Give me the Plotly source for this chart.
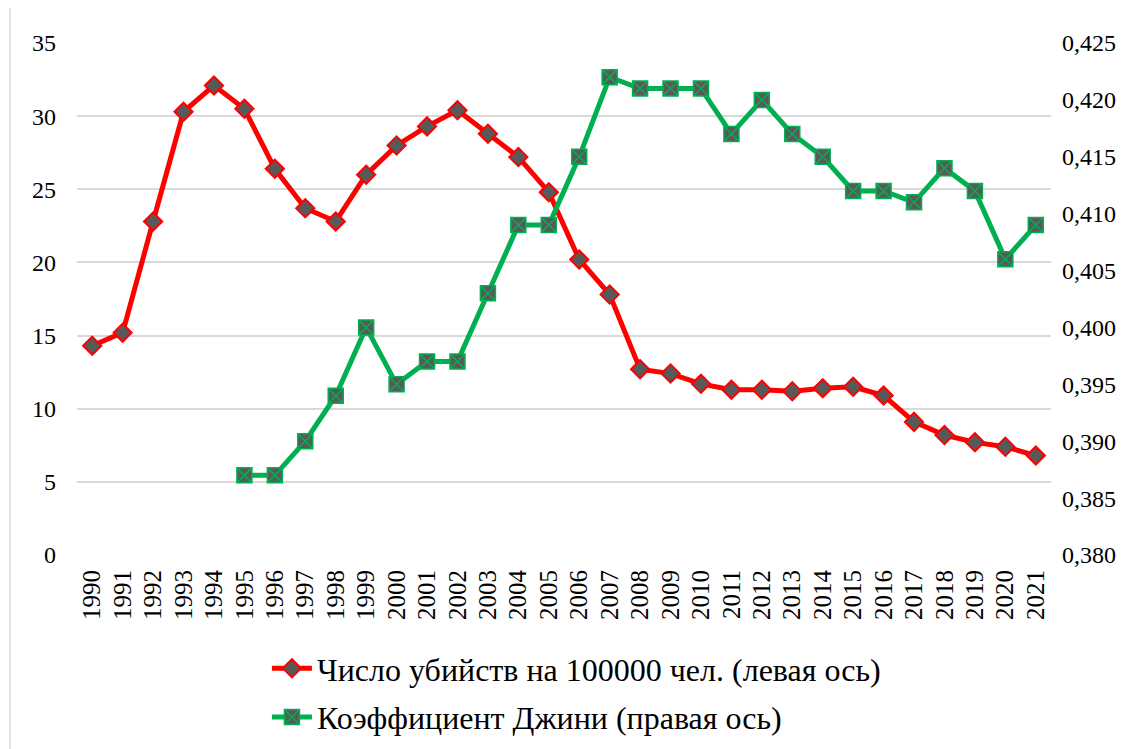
import plotly.graph_objects as go

# ── Данные ────────────────────────────────────────────────────────────────
years = list(range(1990, 2022))

murders = [14.3, 15.2, 22.8, 30.3, 32.1, 30.5, 26.4, 23.7, 22.8, 26.0,
           28.0, 29.3, 30.4, 28.8, 27.2, 24.8, 20.2, 17.8, 12.7, 12.4,
           11.7, 11.3, 11.3, 11.2, 11.4, 11.5, 10.9, 9.1, 8.2, 7.7,
           7.4, 6.8]

gini_years = list(range(1995, 2022))
gini = [0.387, 0.387, 0.390, 0.394, 0.400, 0.395, 0.397, 0.397, 0.403,
        0.409, 0.409, 0.415, 0.422, 0.421, 0.421, 0.421, 0.417, 0.420,
        0.417, 0.415, 0.412, 0.412, 0.411, 0.414, 0.412, 0.406, 0.409]

left_ticks = [0, 5, 10, 15, 20, 25, 30, 35]
right_ticks = [0.380, 0.385, 0.390, 0.395, 0.400, 0.405, 0.410, 0.415, 0.420, 0.425]

name_murders = "Число убийств на 100000 чел. (левая ось)"
name_gini = "Коэффициент Джини (правая ось)"

FONT = "Times New Roman, Liberation Serif, serif"
RED = "#ff0000"
GREEN = "#00b050"
MARK = "#595959"

fig = go.Figure()

fig.add_trace(go.Scatter(
  x=years, y=murders, name=name_murders, mode="lines+markers",
  line=dict(color=RED, width=5),
  marker=dict(symbol="diamond", size=14, color=MARK, line=dict(color=RED, width=2)),
  legendgroup="a",
))

fig.add_trace(go.Scatter(
  x=gini_years, y=gini, name=name_gini, mode="lines+markers",
  line=dict(color=GREEN, width=5), yaxis="y2",
  marker=dict(symbol="square-x", size=15, color=MARK, line=dict(color=GREEN, width=1.5)),
  legendgroup="b",
))

# страница получает отступ body 8px — компенсируем в полях
fig.update_layout(
  width=1137, height=749,
  paper_bgcolor="white", plot_bgcolor="white",
  font=dict(family=FONT, size=24, color="black"),
  separators=", ",
  margin=dict(l=69, r=94, t=35, b=202, autoexpand=False),
  xaxis=dict(
    range=[1989.5, 2021.5], tickmode="array", tickvals=years,
    ticktext=[str(y) for y in years], tickangle=-90,
    showgrid=False, zeroline=False, showline=False, ticks="",
    ticklabelstandoff=9, tickfont=dict(size=25),
  ),
  yaxis=dict(
    range=[0, 35], tickmode="array", tickvals=left_ticks,
    showgrid=True, gridcolor="#d9d9d9", gridwidth=2,
    zeroline=False, showline=False, ticks="",
    ticklabelstandoff=20, tickfont=dict(size=24),
  ),
  yaxis2=dict(
    range=[0.380, 0.425], tickmode="array", tickvals=right_ticks,
    tickformat=".3f", overlaying="y", side="right",
    showgrid=False, zeroline=False, showline=False, ticks="",
    ticklabelstandoff=10, tickfont=dict(size=24),
  ),
  showlegend=True,
  legend=dict(
    orientation="v", x=0.195, xanchor="left", y=-0.168, yanchor="top",
    font=dict(size=32), tracegroupgap=4, bgcolor="rgba(0,0,0,0)",
    itemwidth=40,
  ),
  shapes=[dict(
    type="line", xref="paper", yref="paper",
    x0=-0.0688, x1=-0.0688, y0=-0.4, y1=1.1,
    line=dict(color="#d9d9d9", width=1.5),
  )],
)

fig.write_html("out.html")
